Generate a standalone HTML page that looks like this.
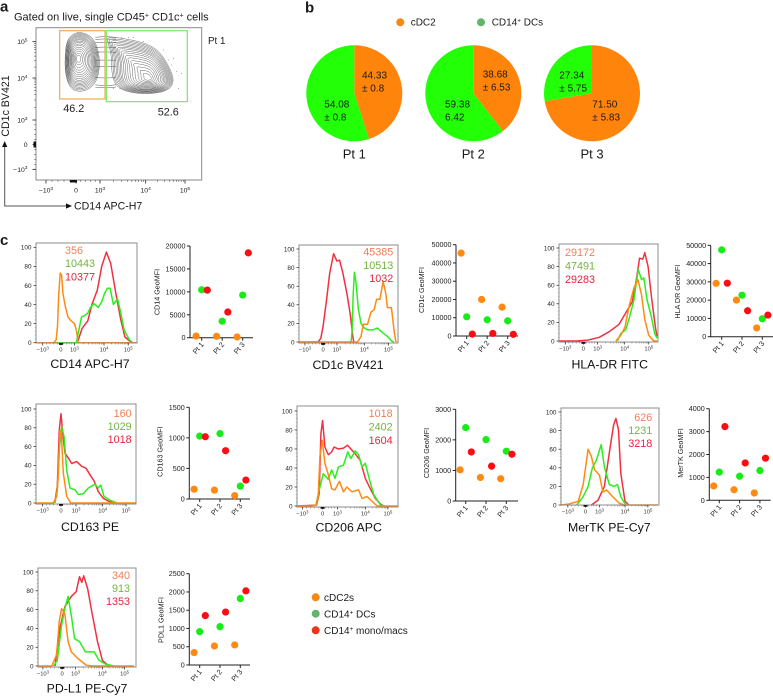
<!DOCTYPE html>
<html lang="en">
<head>
<meta charset="utf-8">
<title>Flow cytometry panels</title>
<style>
html,body{margin:0;padding:0;background:#fff}
svg{display:block}
text{font-family:"Liberation Sans",Arial,sans-serif;fill:#1a1a1a}
</style>
</head>
<body>
<svg id="fig" xmlns="http://www.w3.org/2000/svg" width="773" height="696" viewBox="0 0 773 696">
  <text x="0" y="11.5" font-size="15" font-weight="700" fill="#000">a</text>
  <text x="305" y="12.5" font-size="15" font-weight="700" fill="#000">b</text>
  <text x="0" y="245" font-size="15" font-weight="700" fill="#000">c</text>

  <text x="14" y="20.5" font-size="11">Gated on live, single  CD45<tspan dy="-3" font-size="7">+</tspan><tspan dy="3"> CD1c</tspan><tspan dy="-3" font-size="7">+</tspan><tspan dy="3"> cells</tspan></text>
  <text x="208" y="44" font-size="9.8">Pt 1</text>
  <text x="63.3" y="112" font-size="10.8">46.2</text>
  <text x="157.7" y="115.7" font-size="10.8">52.6</text>
  <text transform="translate(9,106) rotate(-90)" text-anchor="middle" font-size="10.6">CD1c BV421</text>
  <text x="74" y="209.5" font-size="10.6">CD14 APC-H7</text>
  <path d="M4.7 145V206H68" fill="none" stroke="#555" stroke-width="1"/>
  <path d="M4.7 141l-2.6 6h5.2zM72 206l-6-2.6v5.2z" fill="#111"/>

  <circle cx="400.3" cy="22.3" r="4" fill="#f58a12"/>
  <text x="410.7" y="25.7" font-size="10">cDC2</text>
  <circle cx="481" cy="22.3" r="4" fill="#62b56a"/>
  <text x="491.7" y="25.7" font-size="10">CD14<tspan dy="-3" font-size="6.3">+</tspan><tspan dy="3"> DCs</tspan></text>

  <circle cx="315.7" cy="597.3" r="4" fill="#f58a12"/>
  <text x="324" y="601" font-size="10">cDC2s</text>
  <circle cx="315.7" cy="613.7" r="4" fill="#62b56a"/>
  <text x="324" y="617.5" font-size="10">CD14<tspan dy="-3" font-size="6.3">+</tspan><tspan dy="3"> DCs</tspan></text>
  <circle cx="315.7" cy="630.3" r="4" fill="#e8351f"/>
  <text x="324" y="634" font-size="10">CD14<tspan dy="-3" font-size="6.3">+</tspan><tspan dy="3"> mono/macs</tspan></text>
</svg>
<script>
/* ---------- categories ---------- */
const patients = ['Pt 1', 'Pt 2', 'Pt 3'];
const fluorTickLabels = ['-10^3', '0', '10^3', '10^4', '10^5'];
const percentTicks = [0, 20, 40, 60, 80, 100];

/* ---------- panel b: pie values ---------- */
const pieCdc2 = [44.33, 38.68, 71.50];
const pieCd14 = [54.08, 59.38, 27.34];
const pieCdc2Error = ['± 0.8', '± 6.53', '± 5.83'];
const pieCd14Error = ['± 0.8', '6.42', '± 5.75'];

/* ---------- panel a: contour plot (channel units) ---------- */
const gateTicksX = [30, 120, 192, 329, 447];
const gateTicksY = [32, 107, 180, 306, 415];
const gateTickLabelsY = ['-10^3', '0', '10^3', '10^4', '10^5'];
const contourLevels = [1, .96, .92, .88, .84, .8, .76, .72, .67, .62, .56, .5, .43, .36, .28, .2, .12];
const leftContour = [[87,370],[92,420],[117,443],[147,442],[172,425],[187,390],[192,340],[182,295],[154,268],[117,265],[97,285],[87,325]];
const leftCore = [127, 365];
const rightContour = [[212,430],[262,425],[332,410],[372,385],[402,335],[415,295],[397,268],[342,257],[282,262],[242,278],[227,315],[227,370],[217,410]];
const rightCore = [337, 305];
const bridgeLevels = [432, 425, 415, 400, 385, 360, 340, 305, 282, 275];
const outlierEvents = [[257,428],[277,428],[292,428],[322,415],[382,390],[397,360],[407,345],[422,325],[437,320],[427,275],[232,275],[252,275],[412,365]];
/* gate bounds: channel xMin, xMax, yMin, yMax */
const gateCdc2 = [71, 207, 243, 448];
const gateCd14 = [211, 454, 235, 448];

/* ---------- panel c: histograms [channel, % of max] ---------- */
const cd14Ticks = [20, 74, 114, 202, 274];
const cd14Orange = [[0,0],[52,0],[60,3],[64,17],[67,48],[72,73],[76,71],[80,52],[87,38],[95,27],[104,23],[114,20],[120,13],[125,0],[300,0]];
const cd14Green = [[0,0],[120,0],[127,13],[135,27],[142,28],[154,31],[162,37],[172,41],[185,37],[195,43],[204,52],[212,57],[220,57],[230,40],[242,46],[250,34],[262,13],[277,3],[287,0],[300,0]];
const cd14Red = [[124,1],[137,15],[154,23],[167,41],[182,55],[195,80],[209,95],[222,83],[237,52],[252,24],[264,6],[277,2],[287,0]];
const cd14Printed = ['356', '10443', '10377'];

const cd1cTicks = [18, 73, 115, 198, 271];
const cd1cOrange = [[0,0],[178,0],[188,6],[195,19],[208,19],[218,32],[228,35],[235,46],[245,46],[255,65],[263,52],[268,37],[280,37],[288,13],[293,1],[296,0]];
const cd1cGreen = [[150,0],[158,0],[161,13],[164,49],[168,75],[173,63],[180,35],[188,20],[198,15],[208,13],[223,13],[238,15],[253,10],[268,6],[281,1],[288,0]];
const cd1cRed = [[0,0],[58,0],[66,4],[73,17],[83,44],[93,74],[105,95],[115,87],[123,88],[133,74],[145,52],[155,31],[163,6],[166,0]];
const cd1cPrinted = ['45385', '10513', '1032'];

const hlaTicks = [19, 74, 117, 199, 272];
const hlaOrange = [[172,0],[187,6],[200,15],[212,37],[227,57],[239,66],[250,50],[260,23],[272,6],[287,0],[297,0]];
const hlaGreen = [[177,0],[187,8],[202,12],[214,26],[227,44],[240,77],[250,66],[257,68],[267,44],[280,26],[290,8],[297,3]];
const hlaRed = [[0,0],[52,0],[87,1],[122,4],[152,10],[182,18],[207,33],[222,42],[234,65],[244,89],[254,88],[260,95],[270,80],[280,48],[292,15],[297,5]];
const hlaPrinted = ['29172', '47491', '29283'];

const cd163Ticks = [20, 75, 120, 200, 270];
const cd163Orange = [[0,0],[52,0],[62,7],[67,28],[72,78],[76,74],[82,32],[92,7],[104,0],[300,0]];
const cd163Green = [[57,0],[64,14],[70,57],[77,81],[84,71],[92,35],[102,16],[117,14],[127,9],[142,10],[157,16],[177,20],[187,16],[194,19],[204,7],[222,3],[242,0]];
const cd163Red = [[57,2],[64,18],[70,78],[75,95],[80,74],[87,53],[97,48],[107,42],[122,44],[137,39],[150,37],[162,30],[175,23],[187,12],[202,5],[217,2],[232,0]];
const cd163Printed = ['160', '1029', '1018'];

const cd206Ticks = [16, 76, 120, 203, 270];
const cd206Orange = [[0,0],[40,0],[56,1],[63,10],[68,52],[75,69],[83,45],[93,33],[103,18],[113,17],[126,26],[138,15],[148,20],[163,15],[183,17],[193,8],[208,10],[223,5],[238,0],[300,0]];
const cd206Green = [[56,1],[66,17],[78,34],[93,28],[103,38],[113,29],[123,41],[138,43],[151,57],[160,50],[173,58],[183,54],[193,41],[203,45],[216,27],[228,12],[248,1],[260,0]];
const cd206Red = [[0,0],[58,1],[66,13],[71,76],[76,90],[83,62],[93,54],[103,57],[110,62],[123,60],[138,61],[150,64],[160,60],[173,55],[188,48],[203,29],[218,18],[233,8],[248,2],[258,0]];
const cd206Printed = ['1018', '2402', '1604'];

const mertkTicks = [21, 75, 118, 196, 266];
const mertkOrange = [[0,0],[23,1],[53,4],[68,22],[83,60],[93,52],[103,38],[118,32],[128,14],[140,16],[158,9],[178,2],[193,0],[296,0]];
const mertkGreen = [[48,0],[68,9],[83,20],[96,40],[108,48],[123,65],[133,41],[148,22],[163,20],[173,22],[183,9],[198,0]];
const mertkRed = [[93,0],[113,5],[133,20],[148,56],[161,86],[168,93],[176,81],[183,34],[196,4],[208,0]];
const mertkPrinted = ['626', '1231', '3218'];

const pdl1Ticks = [15, 74, 115, 197, 265];
const pdl1Orange = [[0,0],[42,0],[57,12],[65,47],[72,61],[82,56],[92,26],[102,15],[122,8],[147,1],[167,0],[294,0]];
const pdl1Green = [[47,0],[59,6],[72,43],[82,61],[92,74],[102,54],[112,29],[127,26],[145,15],[172,15],[187,6],[207,2],[232,0]];
const pdl1Red = [[52,0],[67,40],[82,63],[102,74],[117,79],[127,95],[134,89],[140,96],[152,82],[165,57],[182,26],[197,6],[217,0]];
const pdl1Printed = ['340', '913', '1353'];

/* ---------- panel c: GeoMFI per patient ---------- */
const cd14Mfi = [[356, 300, 150], [10443, 3600, 9300], [10377, 5600, 18500]];
const cd14MfiTicks = [0, 5000, 10000, 15000, 20000];
const cd1cMfi = [[45385, 20000, 15800], [10513, 8900, 8300], [1032, 1400, 900]];
const cd1cMfiTicks = [0, 10000, 20000, 30000, 40000, 50000];
const hlaMfi = [[29172, 20000, 4800], [47491, 22700, 9800], [29283, 14200, 11800]];
const hlaMfiTicks = [0, 10000, 20000, 30000, 40000, 50000];
const cd163Mfi = [[160, 145, 55], [1029, 1070, 210], [1018, 790, 310]];
const cd163MfiTicks = [0, 500, 1000, 1500];
const cd206Mfi = [[1018, 770, 730], [2402, 2010, 1630], [1604, 1140, 1530]];
const cd206MfiTicks = [0, 1000, 2000, 3000];
const mertkMfi = [[626, 460, 320], [1231, 1050, 1300], [3218, 1630, 1840]];
const mertkMfiTicks = [0, 1000, 2000, 3000, 4000];
const pdl1Mfi = [[340, 520, 550], [913, 1050, 1820], [1353, 1450, 2030]];
const pdl1MfiTicks = [0, 500, 1000, 1500, 2000, 2500];

/* ---------- drawing helpers ---------- */
const NS = 'http://www.w3.org/2000/svg';
const fig = document.getElementById('fig');
const SERIES = ['cdc2', 'cd14-dc', 'cd14-mono'];
const LINE = ['#ff8a14', '#2cee1e', '#f23040'];
const DOT = ['#ff8a12', '#18ec18', '#fb0d14'];
const PRINT = ['#f0805a', '#72b53e', '#e8233f'];
function el(tag, attrs, parent) {
  const n = document.createElementNS(NS, tag);
  for (const k in attrs) n.setAttribute(k, attrs[k]);
  (parent || fig).appendChild(n);
  return n;
}
function label(str, x, y, size, anchor, parent, fill) {
  const t = el('text', {x: x, y: y, 'font-size': size, 'text-anchor': anchor || 'start'}, parent);
  if (fill) t.setAttribute('style', 'fill:' + fill);
  const parts = String(str).split('^');
  t.appendChild(document.createTextNode(parts[0].replace(/^-/, '\u2212')));
  if (parts[1]) {
    const s = el('tspan', {dy: -size * .4, 'font-size': size * .72}, t);
    s.textContent = parts[1];
  }
  return t;
}
function line(x1, y1, x2, y2, stroke, w, parent) {
  return el('line', {x1: x1, y1: y1, x2: x2, y2: y2, stroke: stroke, 'stroke-width': w}, parent);
}
/* minor ticks on a compensated fluorescence axis */
function minorChannels(t) {
  const out = [];
  for (let i = 1; i <= 4; i++) out.push(t[1] + (t[0] - t[1]) * i / 5, t[1] + (t[2] - t[1]) * i / 5);
  for (let d = 2; d < 4; d++) for (let k = 2; k < 10; k++) out.push(t[d] + (t[d + 1] - t[d]) * Math.log10(k));
  return out;
}

/* ---------- panel a ---------- */
(function () {
  const gx = c => 36 + c / 3, gy = c => 180 - c / 3;
  const g = el('g', {});
  
  
  function smooth(pts) {
    const n = pts.length;
    let d = '';
    for (let i = 0; i < n; i++) {
      const a = pts[i], b = pts[(i + 1) % n];
      const m = [(a[0] + b[0]) / 2, (a[1] + b[1]) / 2];
      if (i === 0) {
        const z = pts[n - 1];
        d += 'M' + ((z[0] + a[0]) / 2).toFixed(1) + ' ' + ((z[1] + a[1]) / 2).toFixed(1);
      }
      d += 'Q' + a[0].toFixed(1) + ' ' + a[1].toFixed(1) + ' ' + m[0].toFixed(1) + ' ' + m[1].toFixed(1);
    }
    return d + 'Z';
  }
  [[leftContour, leftCore, 'left'], [rightContour, rightCore, 'right']].forEach(function (pop) {
    contourLevels.forEach(function (lv) {
      const pts = pop[0].map(p => [gx(pop[1][0] + (p[0] - pop[1][0]) * lv), gy(pop[1][1] + (p[1] - pop[1][1]) * lv)]);
      const c = el('path', {d: smooth(pts), fill: 'none', stroke: '#333', 'stroke-width': .5, 'stroke-opacity': .75}, g);
      
      
    });
  });
  bridgeLevels.forEach(function (lv) {
    const dy = (lv - 350) * .05;
    const b = el('path', {d: 'M' + gx(178) + ' ' + gy(lv - dy) + 'Q' + gx(205) + ' ' + gy(lv) + ' ' + gx(240) + ' ' + gy(lv - dy), fill: 'none', stroke: '#555', 'stroke-width': .5}, g);
    
    
  });
  outlierEvents.forEach(function (p) {
    const o = el('circle', {cx: gx(p[0]), cy: gy(p[1]), r: .4, fill: '#444'}, g);
    
    
  });
  const f = el('rect', {x: 36, y: 27.7, width: 165.7, height: 152.3, fill: 'none', stroke: '#8a8a8a', 'stroke-width': 1});
  
  
  const g1 = el('rect', {x: gx(gateCdc2[0]), y: gy(gateCdc2[3]), width: (gateCdc2[1] - gateCdc2[0]) / 3, height: (gateCdc2[3] - gateCdc2[2]) / 3, fill: 'none', stroke: '#efa85c', 'stroke-width': 1.2});
  
  
  const g2 = el('rect', {x: gx(gateCd14[0]), y: gy(gateCd14[3]), width: (gateCd14[1] - gateCd14[0]) / 3, height: (gateCd14[3] - gateCd14[2]) / 3, fill: 'none', stroke: '#7be86a', 'stroke-width': 1.2});
  
  
  gateTicksX.forEach(function (c, i) {
    const t = line(gx(c), 180, gx(c), 183.5, '#222', .8);
    
    
    const l = label(fluorTickLabels[i], gx(c), 192.5, 6.8, 'middle');
    
    
  });
  minorChannels(gateTicksX).forEach(function (c) {
    const t = line(gx(c), 180, gx(c), 182, '#444', .5);
    
    
  });
  gateTicksY.forEach(function (c, i) {
    const t = line(36, gy(c), 32.5, gy(c), '#222', .8);
    
    
    const l = label(gateTickLabelsY[i], 27.5, gy(c) + 2.5, 6.8, 'end');
    
    
  });
  minorChannels(gateTicksY).forEach(function (c) {
    const t = line(36, gy(c), 34, gy(c), '#444', .5);
    
    
  });
  const bx = el('rect', {x: 70, y: 180, width: 7, height: 2.5, fill: '#111'});
  
  
  const by = el('rect', {x: 33.5, y: 141.5, width: 2.5, height: 6, fill: '#111'});
  
  
})();

/* ---------- panel b ---------- */
function drawPie(i, cx, cy, r, pos) {
  const total = pieCdc2[i] + pieCd14[i];
  const ang = pieCdc2[i] / total * 2 * Math.PI;
  const ex = cx + r * Math.sin(ang), ey = cy - r * Math.cos(ang);
  const large = ang > Math.PI ? 1 : 0;
  const g = el('g', {});
  
  
  const a = el('path', {d: `M${cx} ${cy}L${cx} ${cy - r}A${r} ${r} 0 ${large} 1 ${ex} ${ey}Z`, fill: '#ff840c'}, g);
  
  
  const b = el('path', {d: `M${cx} ${cy}L${ex} ${ey}A${r} ${r} 0 ${1 - large} 1 ${cx} ${cy - r}Z`, fill: '#22ff06'}, g);
  
  
  const t1 = label(pieCdc2[i].toFixed(2), pos[0], pos[1], 10, 'start', g);
  
  
  const t2 = label(pieCdc2Error[i], pos[0], pos[1] + 13, 10, 'start', g);
  
  
  const t3 = label(pieCd14[i].toFixed(2), pos[2], pos[3], 10, 'start', g);
  
  
  const t4 = label(pieCd14Error[i], pos[2], pos[3] + 13.3, 10, 'start', g);
  
  
  const t5 = label(patients[i], cx, 158.3, 13, 'middle', g);
  
  
}
drawPie(0, 354.3, 93.3, 48, [362, 78.5, 324.3, 107.3]);
drawPie(1, 473.3, 93.3, 48, [482.7, 77.3, 445, 107.3]);
drawPie(2, 592, 93.3, 48, [592.3, 107.7, 559.3, 78.3]);

/* ---------- panel c: histogram ---------- */
function drawHistogram(o) {
  const x = c => o.l + c / 300 * (o.r - o.l);
  const y = p => o.y0 + (o.y100 - o.y0) * p / 100;
  const g = el('g', {});
  
  
  [o.red, o.green, o.orange].forEach(function (s, idx) {
    const si = 2 - idx;
    const p = el('polyline', {points: s.map(q => x(q[0]).toFixed(1) + ',' + y(q[1]).toFixed(1)).join(' '), fill: 'none', stroke: LINE[si], 'stroke-width': 1.5, 'stroke-linejoin': 'round'}, g);
    
    
  });
  const f = el('rect', {x: o.l, y: o.t, width: o.r - o.l, height: o.b - o.t, fill: 'none', stroke: '#8c8c8c', 'stroke-width': 1}, g);
  
  
  o.ticks.forEach(function (c, i) {
    const t = line(x(c), o.b, x(c), o.b + 2.5, '#222', .7, g);
    
    
    const l = label(fluorTickLabels[i], x(c), o.b + 8.7, 5.8, 'middle', g, '#333');
    
    
  });
  minorChannels(o.ticks).forEach(function (c) {
    const t = line(x(c), o.b, x(c), o.b + 1.5, '#555', .4, g);
    
    
  });
  const zm = el('rect', {x: x(o.ticks[1]) - 2, y: o.b, width: 4, height: 1.8, fill: '#111'}, g);
  
  
  percentTicks.forEach(function (p) {
    const t = line(o.l, y(p), o.l - 2.5, y(p), '#222', .7, g);
    
    
    const l = label(p, o.l - 4.5, y(p) + 2.3, 6.4, 'end', g, '#222');
    
    
    if (p < 100) for (let k = 1; k < 5; k++) {
      const m = line(o.l, y(p + k * 4), o.l - 1.3, y(p + k * 4), '#777', .35, g);
      
      
    }
  });
  o.printed.forEach(function (s, i) {
    const t = label(s, o.tx, o.ty[i] + 3.8, 10.8, o.anchor, g, PRINT[i]);
    
    
  });
  const tt = label(o.title, o.cx, o.base, 12.3, 'middle', g, '#111');
  
  
}

/* ---------- panel c: GeoMFI dot plot ---------- */
function drawDots(o) {
  const top = o.ticks[o.ticks.length - 1];
  const y = v => o.y0 + (o.yTop - o.y0) * v / top;
  const x = (cat, s) => o.x1 + cat * o.step + s * 5.6;
  const g = el('g', {});
  
  
  const ya = line(o.ax, o.yTop, o.ax, o.y0, '#222', 1, g);
  
  
  const xa = line(o.ax - .5, o.y0, o.end, o.y0, '#222', 1, g);
  
  
  o.ticks.forEach(function (v) {
    const t = line(o.ax, y(v), o.ax - 3, y(v), '#222', 1, g);
    
    
    const l = label(v, o.ax - 4.5, y(v) + 2.5, 7.2, 'end', g, '#222');
    
    
  });
  patients.forEach(function (p, i) {
    const t = line(x(i, 0), o.y0, x(i, 0), o.y0 + 3, '#222', 1, g);
    
    
    const l = label(p, 0, 0, 7.2, 'end', g, '#222');
    l.setAttribute('transform', `translate(${x(i, 0) + 2.5},${o.y0 + 7}) rotate(-50)`);
    
    
  });
  const ti = label(o.title, 0, 0, 7.2, 'middle', g, '#222');
  ti.setAttribute('transform', `translate(${o.tx + 2.5},${o.ty}) rotate(-90)`);
  
  
  o.data.forEach(function (series, s) {
    series.forEach(function (v, i) {
      const c = el('circle', {cx: x(i, s - 1), cy: y(v), r: 3.6, fill: DOT[s]}, g);
      
      
    });
  });
}

drawHistogram({id: 'cd14', l: 36, r: 137, t: 243, b: 343, y0: 342.7, y100: 247.3, ticks: cd14Ticks, orange: cd14Orange, green: cd14Green, red: cd14Red, printed: cd14Printed, tx: 65, ty: [250, 263.3, 276.7], anchor: 'start', title: 'CD14 APC-H7', cx: 90, base: 368});
drawDots({id: 'cd14', ax: 190, y0: 337.7, yTop: 246, x1: 201.7, step: 20.5, end: 253, ticks: cd14MfiTicks, data: cd14Mfi, title: 'CD14 GeoMFI', tx: 157, ty: 292});

drawHistogram({id: 'cd1c', l: 299, r: 398, t: 245, b: 343, y0: 342, y100: 249, ticks: cd1cTicks, orange: cd1cOrange, green: cd1cGreen, red: cd1cRed, printed: cd1cPrinted, tx: 393.3, ty: [251.7, 265, 278.3], anchor: 'end', title: 'CD1c BV421', cx: 348, base: 369});
drawDots({id: 'cd1c', ax: 456, y0: 336, yTop: 244.7, x1: 466.7, step: 20.5, end: 518, ticks: cd1cMfiTicks, data: cd1cMfi, title: 'CD1c GeoMFI', tx: 421.7, ty: 290});

drawHistogram({id: 'hla-dr', l: 559, r: 658, t: 244, b: 342, y0: 341, y100: 248, ticks: hlaTicks, orange: hlaOrange, green: hlaGreen, red: hlaRed, printed: hlaPrinted, tx: 565, ty: [252, 265.7, 279], anchor: 'start', title: 'HLA-DR FITC', cx: 609.7, base: 368.7});
drawDots({id: 'hla-dr', ax: 710.7, y0: 336.7, yTop: 245.3, x1: 721.7, step: 20.3, end: 773, ticks: hlaMfiTicks, data: hlaMfi, title: 'HLA DR GeoMFI', tx: 677.7, ty: 291.7});

drawHistogram({id: 'cd163', l: 36, r: 136, t: 404, b: 504, y0: 503, y100: 409, ticks: cd163Ticks, orange: cd163Orange, green: cd163Green, red: cd163Red, printed: cd163Printed, tx: 131.7, ty: [413.3, 426, 439.3], anchor: 'end', title: 'CD163 PE', cx: 90, base: 531});
drawDots({id: 'cd163', ax: 189.3, y0: 499, yTop: 407.3, x1: 199.7, step: 20.3, end: 250, ticks: cd163MfiTicks, data: cd163Mfi, title: 'CD163 GeoMFI', tx: 160, ty: 451.7});

drawHistogram({id: 'cd206', l: 297, r: 398, t: 406, b: 507, y0: 506, y100: 411, ticks: cd206Ticks, orange: cd206Orange, green: cd206Green, red: cd206Red, printed: cd206Printed, tx: 392.7, ty: [413.3, 426.7, 440], anchor: 'end', title: 'CD206 APC', cx: 348.7, base: 531.7});
drawDots({id: 'cd206', ax: 455.7, y0: 501, yTop: 409.3, x1: 465.7, step: 20.3, end: 518, ticks: cd206MfiTicks, data: cd206Mfi, title: 'CD206 GeoMFI', tx: 426.7, ty: 453});

drawHistogram({id: 'mertk', l: 561, r: 659, t: 408, b: 505, y0: 505, y100: 412, ticks: mertkTicks, orange: mertkOrange, green: mertkGreen, red: mertkRed, printed: mertkPrinted, tx: 652.3, ty: [417.3, 430, 443], anchor: 'end', title: 'MerTK PE-Cy7', cx: 609.3, base: 531.3});
drawDots({id: 'mertk', ax: 709.3, y0: 500.3, yTop: 408.7, x1: 719.3, step: 20.3, end: 770.7, ticks: mertkMfiTicks, data: mertkMfi, title: 'MerTK GeoMFI', tx: 680.7, ty: 453});

drawHistogram({id: 'pd-l1', l: 38, r: 136, t: 568, b: 667, y0: 666, y100: 572, ticks: pdl1Ticks, orange: pdl1Orange, green: pdl1Green, red: pdl1Red, printed: pdl1Printed, tx: 130, ty: [575, 588.3, 601.3], anchor: 'end', title: 'PD-L1 PE-Cy7', cx: 87, base: 692.7});
drawDots({id: 'pd-l1', ax: 189.3, y0: 665, yTop: 573.7, x1: 199.7, step: 20.3, end: 250, ticks: pdl1MfiTicks, data: pdl1Mfi, title: 'PDL1 GeoMFI', tx: 161, ty: 620});
</script>
</body>
</html>
